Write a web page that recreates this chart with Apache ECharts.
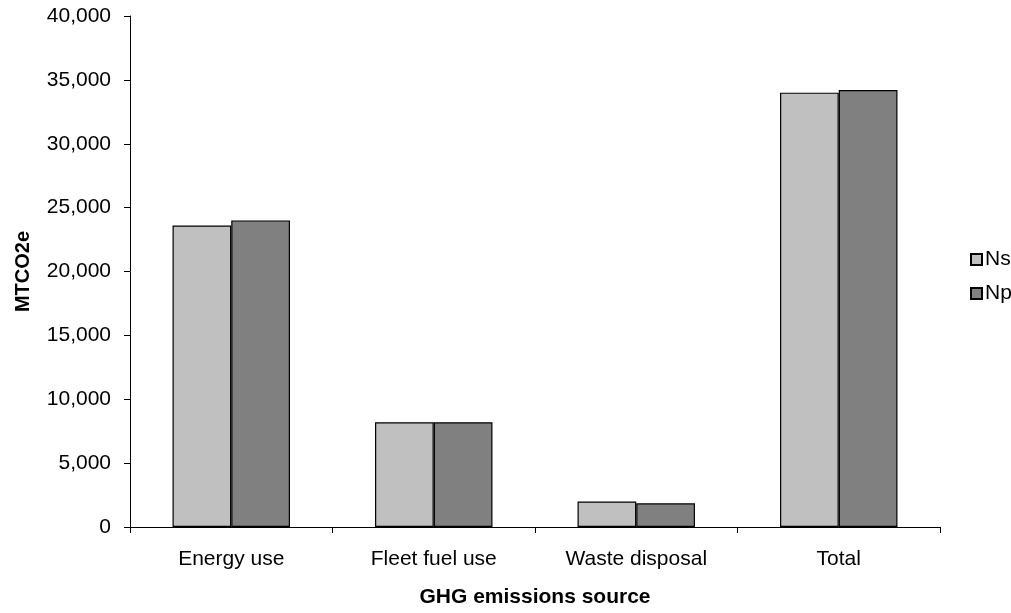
<!DOCTYPE html>
<html>
<head>
<meta charset="utf-8">
<script src="https://cdn.jsdelivr.net/npm/echarts@6/dist/echarts.min.js"></script>
<style>
  html, body { margin: 0; padding: 0; background: #fff; }
  #chart { width: 1011px; height: 613px; }
</style>
</head>
<body>
<div id="chart"></div>
<script>
const categories = ["Energy use", "Fleet fuel use", "Waste disposal", "Total"];
const nsValues = [23600, 8200, 2000, 34000];
const npValues = [24000, 8200, 1850, 34200];
const seriesNames = ["Ns", "Np"];

const chartInstance = echarts.init(document.getElementById("chart"));
const font = "Liberation Sans, Arial, sans-serif";

const option = {
  animation: false,
  textStyle: { fontFamily: font, color: "#000" },
  grid: {
    left: 130,
    right: 71,
    top: 16,
    bottom: 85,
  },
  legend: {
    orient: "vertical",
    left: 965,
    top: 244,
    itemWidth: 11,
    itemHeight: 11,
    itemGap: 13,
    icon: "rect",
    textStyle: { fontFamily: font, fontSize: 21, color: "#000", padding: [0, 0, 0, -2] },
    data: seriesNames,
  },
  xAxis: {
    type: "category",
    data: categories,
    name: "GHG emissions source",
    nameLocation: "middle",
    nameGap: 60,
    nameTextStyle: { fontFamily: font, fontSize: 21, fontWeight: "bold", color: "#000" },
    axisLine: { lineStyle: { color: "#000", width: 1 } },
    axisTick: { show: true, length: 6, lineStyle: { color: "#000" } },
    axisLabel: { margin: 22, fontFamily: font, fontSize: 21, color: "#000" },
    splitLine: { show: false },
  },
  yAxis: {
    type: "value",
    min: 0,
    max: 40000,
    interval: 5000,
    name: "MTCO2e",
    nameLocation: "middle",
    nameRotate: 90,
    nameGap: 97,
    nameTextStyle: { fontFamily: font, fontSize: 20, fontWeight: "bold", color: "#000" },
    axisLine: { show: true, lineStyle: { color: "#000", width: 1 } },
    axisTick: { show: true, length: 6, lineStyle: { color: "#000" } },
    axisLabel: {
      margin: 19,
      fontFamily: font,
      fontSize: 21,
      color: "#000",
      formatter: (v) => v.toLocaleString("en-US"),
    },
    splitLine: { show: false },
  },
  series: [
    {
      name: seriesNames[0],
      type: "bar",
      data: nsValues,
      barGap: "0%",
      barCategoryGap: "42%",
      itemStyle: { color: "#C0C0C0", borderColor: "#000", borderWidth: 1.2 },
    },
    {
      name: seriesNames[1],
      type: "bar",
      data: npValues,
      barGap: "0%",
      barCategoryGap: "42%",
      itemStyle: { color: "#808080", borderColor: "#000", borderWidth: 1.2 },
    },
  ],
};
chartInstance.setOption(option);
</script>
</body>
</html>
